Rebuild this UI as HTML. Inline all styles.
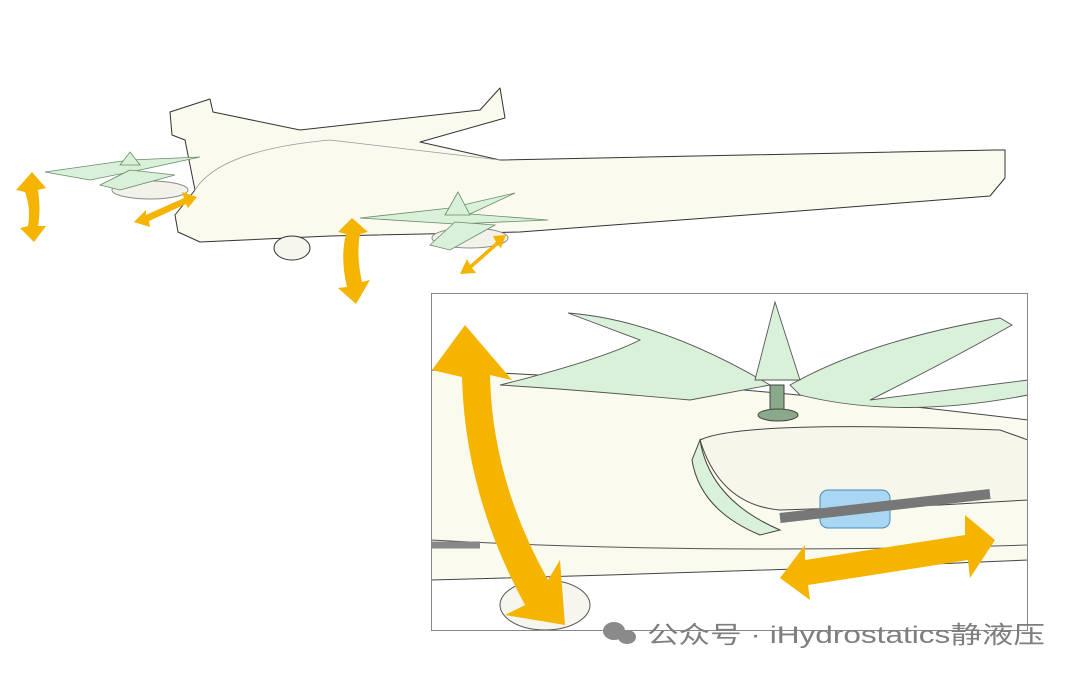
<!DOCTYPE html>
<html><head><meta charset="utf-8"><style>
html,body{margin:0;padding:0;background:#fff;width:1080px;height:676px;overflow:hidden}
svg{display:block}
</style></head><body>
<svg width="1080" height="676" viewBox="0 0 1080 676" xmlns="http://www.w3.org/2000/svg">
<defs>
<clipPath id="ic"><rect x="431" y="293" width="597" height="338"/></clipPath>
</defs>
<g stroke="#333" stroke-width="1" stroke-linejoin="round">
<path d="M170,112 L210,99 L213,112 L300,130 L480,110 L500,88 L505,118 L420,142 L500,160 L995,150 L1005,150 L1005,178 L990,196 L760,214 L520,232 L330,236 L200,242 L178,232 L175,215 L195,190 L185,140 L172,135 Z" fill="#fbfaee"/>
<path d="M195,190 Q220,150 330,140 L500,160" fill="none" stroke="#999" stroke-width="0.8"/>
<ellipse cx="292" cy="248" rx="18" ry="12" fill="#f7f6ee"/>
<ellipse cx="150" cy="190" rx="38" ry="9" fill="#f2f2ea" stroke="#888"/>
<ellipse cx="470" cy="238" rx="38" ry="10" fill="#f2f2ea" stroke="#888"/>
</g>
<g fill="#d8f1d8" stroke="#6a8a6a" stroke-width="0.8">
<path d="M45,172 L130,160 L200,157 L140,170 L90,180 Z"/>
<path d="M120,165 L130,152 L140,165 Z"/>
<path d="M100,185 L130,170 L175,175 L120,190 Z"/>
<path d="M360,218 L450,208 L515,193 L470,214 L548,220 L455,224 Z"/>
<path d="M445,215 L458,192 L470,215 Z"/>
<path d="M430,245 L455,222 L495,225 L450,250 Z"/>
</g>
<g fill="#f4b400">
<path d="M16,190 L32,172 L46,188 L38,190 Q41,210 38,226 L46,226 L34,242 L20,228 L28,226 Q31,208 25,192 Z"/>
<path d="M134,222 L146,210 L146,215 L184,198 L182,192 L197,197 L188,208 L186,204 L149,221 L150,227 Z"/>
<path d="M338,232 L352,218 L368,232 L360,234 Q356,256 362,282 L370,280 L356,304 L338,288 L347,287 Q340,258 346,234 Z"/>
<path d="M460,274 L467,259 L470,265 L496,242 L493,236 L506,235 L501,248 L498,245 L472,268 L476,273 Z"/>
</g>
<g clip-path="url(#ic)">
<rect x="431" y="293" width="597" height="338" fill="#fff"/>
<path d="M431,370 Q700,380 1028,420 L1028,560 Q800,570 431,580 Z" fill="#fbfaee" stroke="#444" stroke-width="1"/>
<path d="M431,540 Q700,555 1028,545" fill="none" stroke="#555"/>
<path d="M700,440 Q740,420 1000,430 L1028,440 L1028,500 L940,505 L780,510 Q720,505 700,440 Z" fill="#f7f6ea" stroke="#444"/>
<path d="M700,440 Q710,500 780,530 L760,535 Q700,510 692,460 Z" fill="#d8f1d8" stroke="#444"/>
<rect x="820" y="490" width="70" height="38" rx="8" fill="#a9d6f2" stroke="#4a8ab8"/>
<path d="M780,518 L990,494" stroke="#777" stroke-width="10"/>
<path d="M431,545 L480,545" stroke="#888" stroke-width="7"/>
<ellipse cx="545" cy="605" rx="45" ry="25" fill="#f7f6ee" stroke="#555"/>
<g fill="#d8f1d8" stroke="#555" stroke-width="0.9">
<path d="M568,313 Q660,320 770,385 L690,400 Q580,390 500,385 Q600,360 640,340 Z"/>
<path d="M790,385 Q870,340 1000,318 L1012,325 Q950,360 870,400 L1028,380 L1028,395 Q900,420 800,395 Z"/>
<path d="M755,380 L775,302 L800,380 Z"/>
</g>
<rect x="770" y="385" width="14" height="30" fill="#8aa88a" stroke="#444"/>
<ellipse cx="778" cy="415" rx="20" ry="6" fill="#8aa88a" stroke="#444"/>
</g>
<rect x="431.5" y="293.5" width="596" height="337" fill="none" stroke="#888" stroke-width="1"/>
<g fill="#f4b400">
<path d="M432,370 L465,325 L512,380 L490,375 Q492,480 548,580 L560,560 L565,625 L505,615 L525,605 Q465,495 462,377 Z"/>
<path d="M780,578 L805,545 L805,560 L965,535 L965,515 L995,540 L970,578 L968,560 L808,585 L810,600 Z"/>
</g>
<g fill="#8a8a8a">
<ellipse cx="614" cy="631" rx="11" ry="9"/>
<ellipse cx="627" cy="637" rx="9" ry="7"/>
</g>
<text x="647" y="643" textLength="398" lengthAdjust="spacingAndGlyphs" font-family="Liberation Sans, Noto Sans CJK SC, sans-serif" font-size="24" fill="#7e7e7e">公众号 · iHydrostatics静液压</text>
</svg>
</body></html>
